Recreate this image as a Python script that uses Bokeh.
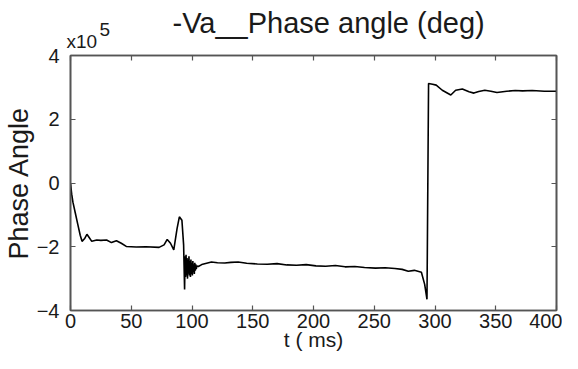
from bokeh.plotting import figure
from bokeh.models import LinearAxis, FixedTicker, Range1d, Title
from bokeh.embed import file_html
from bokeh.resources import INLINE

# time (ms) and phase angle in units of 1e5 deg
t_ms = [0, 1, 2, 4, 6, 8, 9.5, 11.5, 13.5, 15.5, 17.5, 21.6, 25, 29.7, 33.7, 37.8, 41.8,
        45.9, 54, 62, 72.9, 77, 79.6, 82.3, 85, 87.7, 89.6, 91.7, 93.1, 93.9,
        94.3, 94.7, 95.1, 95.5, 95.9, 96.3, 96.7, 97.1, 97.5, 97.9, 98.3, 98.7, 99.1,
        99.5, 99.9, 100.3, 100.7, 101.1, 101.5, 101.9, 102.3, 102.7, 103.1, 103.5, 104,
        105.2, 108, 112, 116, 121, 127, 132, 138, 145, 153.8, 162, 170, 178, 186, 194,
        202, 210, 218, 226, 234, 242, 251, 259, 267, 273, 278, 283, 288.8, 291.5, 293.4,
        294.7, 298, 301, 306, 313, 317, 322.5, 328, 332, 336, 341, 346, 351, 359, 366,
        372, 380, 390, 400]
phase_e5 = [-0.02, -0.35, -0.6, -0.95, -1.3, -1.64, -1.83, -1.75, -1.61, -1.72, -1.83,
            -1.79, -1.8, -1.79, -1.87, -1.81, -1.89,
            -1.99, -2.01, -2.0, -2.02, -1.94, -1.77, -1.89, -2.1, -1.43, -1.06, -1.17, -1.94, -3.34,
            -2.3, -2.95, -2.25, -2.9, -2.35, -3.0, -2.4, -2.85, -2.3, -2.9, -2.45, -2.95, -2.4,
            -2.85, -2.5, -2.9, -2.45, -2.8, -2.55, -2.85, -2.5, -2.75, -2.55, -2.7, -2.6,
            -2.62, -2.56, -2.52, -2.48, -2.5, -2.51, -2.49, -2.48, -2.52, -2.54, -2.55, -2.53,
            -2.57, -2.58, -2.56, -2.6, -2.61, -2.59, -2.63, -2.62, -2.65, -2.67, -2.66, -2.68,
            -2.71, -2.77, -2.74, -2.8, -3.18, -3.65,
            3.12, 3.1, 3.07, 2.91, 2.76, 2.91, 2.95, 2.86, 2.82, 2.87, 2.91, 2.88, 2.84, 2.88, 2.9,
            2.89, 2.9, 2.88, 2.88]

x_ticks = [0, 50, 100, 150, 200, 250, 300, 350, 400]
y_ticks = [-4, -2, 0, 2, 4]

FONT = "Liberation Sans"
TXT = "#1a1a1a"
AX = "#555555"

p = figure(width=562, height=353, output_backend="svg", toolbar_location=None,
           x_range=Range1d(0, 400), y_range=Range1d(-4, 4),
           x_axis_label="t ( ms)", y_axis_label="Phase Angle",
           min_border_left=62, min_border_right=6, min_border_top=55, min_border_bottom=40)
p.title_location = None

p.xgrid.visible = False
p.ygrid.visible = False
p.outline_line_color = AX
p.outline_line_width = 1.6
p.background_fill_color = "white"
p.border_fill_color = "white"

p.line(t_ms, phase_e5, line_color="black", line_width=1.6)

for ax in (p.xaxis[0], p.yaxis[0]):
    ax.major_label_text_font = FONT
    ax.major_label_text_font_size = "20px"
    ax.major_label_text_color = TXT
    ax.axis_label_text_font = FONT
    ax.axis_label_text_font_style = "normal"
    ax.axis_label_text_color = TXT
    ax.axis_line_color = AX
    ax.axis_line_width = 1.6
    ax.major_tick_line_color = AX
    ax.major_tick_line_width = 1.2
    ax.major_tick_in = 5
    ax.major_tick_out = 0
    ax.minor_tick_line_color = None

p.xaxis[0].ticker = FixedTicker(ticks=x_ticks)
p.yaxis[0].ticker = FixedTicker(ticks=y_ticks)
p.xaxis[0].axis_label_text_font_size = "21px"
p.yaxis[0].axis_label_text_font_size = "27px"
p.xaxis[0].major_label_standoff = 3
p.yaxis[0].major_label_standoff = 11
p.xaxis[0].axis_label_standoff = -3
p.yaxis[0].axis_label_standoff = 0

# box axes (top and right) with inward ticks, labels not drawn
def box_axis(ticks):
    return LinearAxis(ticker=FixedTicker(ticks=ticks), major_label_text_font_size="1px",
                      major_label_text_color=None,
                      axis_line_color=AX, axis_line_width=1.6, major_tick_line_color=AX,
                      major_tick_line_width=1.2, major_tick_in=5, major_tick_out=0,
                      minor_tick_line_color=None, major_label_standoff=0)

p.add_layout(box_axis(x_ticks), "above")
p.add_layout(box_axis(y_ticks), "right")

# exponent "x10^5" and the title, stacked in the panel above the frame
p.add_layout(Title(text="x10", text_font=FONT, text_font_size="19px", text_font_style="normal",
                   text_color=TXT, align="left", offset=-4, standoff=8), "above")
p.add_layout(Title(text="5", text_font=FONT, text_font_size="19px", text_font_style="normal",
                   text_color=TXT, align="left", offset=29, standoff=-22), "above")
p.add_layout(Title(text="-Va__Phase angle (deg)", text_font=FONT, text_font_size="29px",
                   text_font_style="normal", text_color=TXT, align="left", offset=102,
                   standoff=-29), "above")

open("out.html", "w").write(file_html(p, INLINE))
